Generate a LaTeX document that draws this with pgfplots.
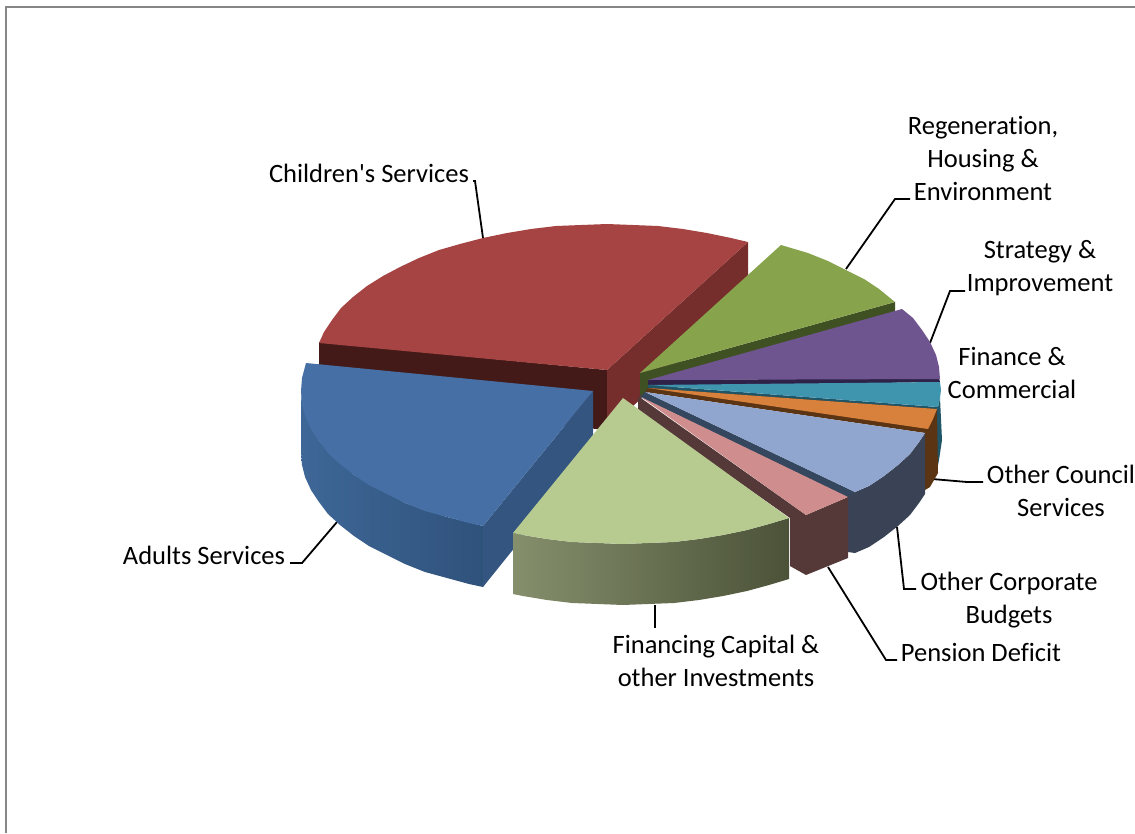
\documentclass[border=0pt]{standalone}
\usepackage{pgfplots}
\pgfplotsset{compat=1.18}
\usepackage{fontspec}
\setmainfont{Carlito}[Ligatures=NoCommon]
\definecolor{frameC}{HTML}{868686}
\definecolor{redTop}{HTML}{A54442}
\definecolor{redDark}{HTML}{431A18}
\definecolor{redWall}{HTML}{762E2D}
\definecolor{greenTop}{HTML}{87A44D}
\definecolor{greenDark}{HTML}{3F5023}
\definecolor{purpleTop}{HTML}{6F558F}
\definecolor{purpleDark}{HTML}{2E2248}
\definecolor{tealTop}{HTML}{3F94AE}
\definecolor{tealDark}{HTML}{1F5566}
\definecolor{orangeTop}{HTML}{D8813C}
\definecolor{brownWall}{HTML}{5A3413}
\definecolor{slateTop}{HTML}{91A6CF}
\definecolor{slateDark}{HTML}{34475E}
\definecolor{slateWall}{HTML}{3A4356}
\definecolor{pinkTop}{HTML}{CF8E8D}
\definecolor{pinkDark}{HTML}{553838}
\definecolor{paleTop}{HTML}{B7CA90}
\definecolor{paleL}{HTML}{858F6C}
\definecolor{paleM}{HTML}{667150}
\definecolor{paleR}{HTML}{4B5238}
\definecolor{blueTop}{HTML}{4670A5}
\definecolor{blueSide}{HTML}{33557F}
\definecolor{blueL}{HTML}{3E6797}
\definecolor{blueR}{HTML}{2F527B}
\tikzset{lab/.style={font=\fontsize{26.5}{33}\selectfont,text=black,align=center,inner sep=0pt}}
\newcommand{\face}[2]{\addplot[draw=none,fill=#1] coordinates {#2} --cycle;}
\newcommand{\leader}[1]{\addplot[black,line width=1.8pt] coordinates {#1};}
\begin{document}
\begin{tikzpicture}
\path[use as bounding box,clip] (0,0) rectangle (1135pt,833pt);
\begin{axis}[
  at={(0,0)},anchor=south west,
  width=1135pt,height=833pt,scale only axis,
  xmin=0,xmax=1135,ymin=0,ymax=833,y dir=reverse,
  axis lines=none,no markers,clip=false,
]
% outer frame
\addplot[frameC,line width=1.5pt] coordinates {(6,833) (6,7) (1135,7)};

% leader lines
\leader{(473,181) (475,181) (483,238)}
\leader{(846,269) (895,199) (910,199)}
\leader{(930,343) (950,291) (965,291)}
\leader{(932,479) (967,482) (983,482)}
\leader{(897,527) (904,589) (916,589)}
\leader{(828,567) (886,660) (897,660)}
\leader{(655,605) (655,628)}
\leader{(337,522) (302,563) (290,563)}

% Children's Services
\face{redDark}{(319,342) (607,370) (607,430) (319,402)}
\face{redWall}{(607,370) (748,242) (748,300) (607,430)}
\face{redTop}{(319,343) (324,332) (332,320) (341,308) (353,297) (367,286) (383,276) (400,267) (419,258) (439,250) (460,244) (483,238) (507,233) (531,229) (556,226) (581,225) (607,224) (633,225) (658,226) (683,229) (707,233) (731,238) (748,242) (607,370)}

% Regeneration, Housing & Environment
\face{greenDark}{(640,373) (895,302) (895,312) (648,382) (648,392) (640,396)}
\face{greenTop}{(640,373) (781,245) (808,253) (828,261) (846,270) (864,279) (879,289) (895,302)}

% Strategy & Improvement
\face{purpleDark}{(648,380) (939,378) (940,382) (648,387)}
\face{purpleTop}{(648,380) (902,309) (913,318) (922,330) (930,342) (936,355) (939,367) (940,379)}

% Finance & Commercial
\face{tealDark}{(940,398) (942,440) (939,460) (936,476) (930,480) (932,420) (938,407)}
\face{tealDark}{(648,385) (938,407) (937,410) (648,389)}
\face{tealTop}{(648,385) (940,382) (941,390) (940,398) (938,407)}

% Other Council Services
\face{brownWall}{(645,392) (648,388) (937,409) (938,473) (930,487) (925,490) (925,433)}
\face{orangeTop}{(648,388) (937,409) (933,419) (928,429)}

% Other Corporate Budgets
\face{slateDark}{(645,392) (855,492) (848,498) (640,397)}
\face{slateWall}{(855,492) (869,486) (884,476) (898,465) (910,454) (919,442) (925,433) (925,494) (919,503) (910,515) (898,526) (884,537) (869,547) (855,553) (848,552) (848,496)}
\face{slateTop}{(645,392) (925,433) (919,442) (910,454) (898,465) (884,476) (869,486) (855,492)}

% Pension Deficit
\face{pinkDark}{(638,396) (806,515) (848,497) (848,558) (806,575) (790,566) (790,518) (638,411)}
\face{pinkTop}{(641,397) (848,497) (806,515)}

% Adults Services
\addplot[draw=none,left color=blueL,right color=blueR]
  coordinates {(301,391) (301,452) (302,465) (305,477) (311,490) (319,502) (328,514) (340,525) (354,536) (369,546) (387,555) (405,564) (425,572) (447,578) (469,584) (483,587) (483,526) (447,517) (405,503) (354,475) (319,441) (302,404)} --cycle;
\face{blueSide}{(483,526) (593,391) (593,450) (483,587)}
\face{blueTop}{(306,363) (593,391) (483,526) (469,523) (447,517) (425,511) (405,503) (387,494) (369,485) (354,475) (340,464) (328,453) (319,441) (311,429) (305,416) (302,404) (301,391) (302,378)}

% Financing Capital & other Investments
\addplot[draw=none,left color=paleL,middle color=paleM,right color=paleR]
  coordinates {(513,533) (523,535) (547,539) (572,542) (598,543) (623,544) (648,543) (674,542) (699,539) (723,535) (747,530) (769,524) (789,518) (789,579) (769,585) (747,591) (723,596) (699,600) (674,603) (648,604) (623,605) (598,604) (572,603) (547,600) (523,596) (513,594)} --cycle;
\face{paleTop}{(623,398) (789,518) (769,524) (747,530) (723,535) (699,539) (674,542) (648,543) (623,544) (598,543) (572,542) (547,539) (523,535) (513,533)}

% category labels
\node[lab] at (axis cs:369,173.5) {Children\textquotesingle s Services};
\node[lab] at (axis cs:983,158) {Regeneration,\\Housing \&\\Environment};
\node[lab] at (axis cs:1040,268) {Strategy \&\\Improvement};
\node[lab] at (axis cs:1012,373) {Finance \&\\Commercial};
\node[lab] at (axis cs:1061,491) {Other Council\\Services};
\node[lab] at (axis cs:1009,600) {Other Corporate\\Budgets};
\node[lab] at (axis cs:981,652) {Pension Deficit};
\node[lab] at (axis cs:716,661) {Financing Capital \&\\other Investments};
\node[lab] at (axis cs:204,555) {Adults Services};
\end{axis}
\end{tikzpicture}
\end{document}
